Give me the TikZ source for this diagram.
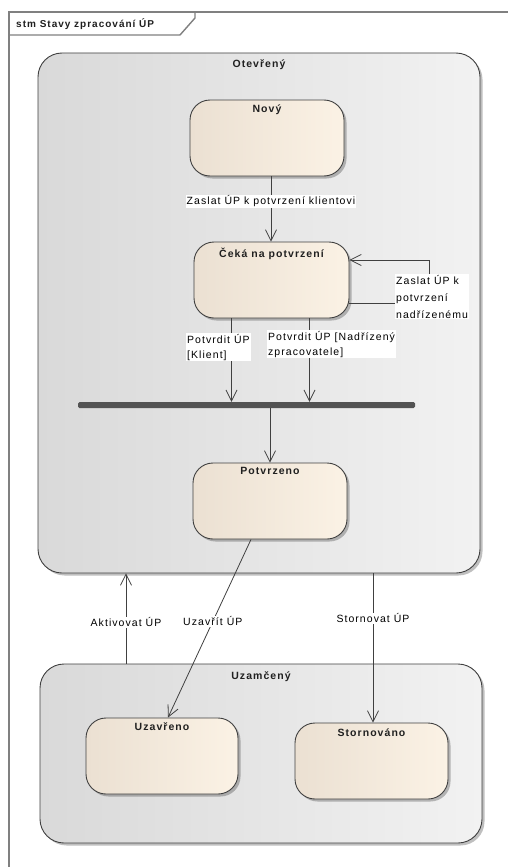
\documentclass[tikz,border=0pt]{standalone}
\usepackage{fontspec}
\setmainfont{Liberation Sans}[LetterSpace=10]
\usetikzlibrary{arrows.meta,shadows,positioning}

\definecolor{frameGray}{HTML}{808080}
\definecolor{edgeGray}{HTML}{404040}
\definecolor{compL}{HTML}{D9D9D9}
\definecolor{compR}{HTML}{F2F2F2}
\definecolor{stateL}{HTML}{EBE0D2}
\definecolor{stateR}{HTML}{FBF2E5}
\definecolor{titleInk}{HTML}{202020}

\tikzset{
  composite/.style={draw=edgeGray, line width=0.9pt, rounded corners=24pt,
    left color=compL, right color=compR,
    drop shadow={shadow xshift=2.5pt, shadow yshift=-2.5pt, fill=black, opacity=0.25}},
  statebox/.style={draw=edgeGray, line width=0.9pt, rounded corners=20pt,
    left color=stateL, right color=stateR,
    drop shadow={shadow xshift=2.5pt, shadow yshift=-2.5pt, fill=black, opacity=0.25}},
  titletext/.style={font=\bfseries\fontsize{10.5}{12}\selectfont, text=titleInk, inner sep=0pt},
  lbl/.style={font=\fontsize{10.5}{15}\selectfont, fill=white, inner sep=1pt, text=black},
  trans/.style={draw=edgeGray, line width=0.8pt, -{Straight Barb[length=11pt,width=11pt,line width=0.8pt]}},
  plain/.style={draw=edgeGray, line width=0.8pt},
  joinbar/.style={fill=edgeGray!90, rounded corners=1.5pt, minimum width=337pt, minimum height=6pt, inner sep=0pt}
}

\begin{document}
\begin{tikzpicture}[x=1pt,y=-1pt]
\useasboundingbox (0,0) rectangle (508,867);
\fill[white] (0,0) rectangle (508,867);

% diagram frame with its name tag
\draw[frameGray, line width=1.4pt] (9,867) -- (9,12) -- (508,12);
\draw[frameGray, line width=1.4pt] (195,12) -- (195,18) -- (180,35) -- (9,35);
\node[titletext, anchor=west, font=\bfseries\fontsize{10}{11}\selectfont] (frametitle) at (16,24) {stm Stavy zpracování ÚP};

% composite states
\node[composite, minimum width=442pt, minimum height=520pt] (otevreny) at (259,313) {};
\node[titletext, anchor=north] (otevrenyT) at ([yshift=-7pt]otevreny.north) {Otevřený};

\node[composite, minimum width=442pt, minimum height=179pt] (uzamceny) at (261,753.5) {};
\node[titletext, anchor=north] (uzamcenyT) at ([yshift=-8pt]uzamceny.north) {Uzamčený};

% simple states
\node[statebox, minimum width=154pt, minimum height=76pt] (novy) at (267,138) {};
\node[titletext, anchor=north] (novyT) at ([yshift=-5pt]novy.north) {Nový};

\node[statebox, minimum width=155pt, minimum height=76pt] (ceka) at (271.5,280) {};
\node[titletext, anchor=north] (cekaT) at ([yshift=-6pt]ceka.north) {Čeká na potvrzení};

\node[joinbar] (bar) at (246.5,405) {};

\node[statebox, minimum width=154pt, minimum height=76pt] (potvrzeno) at (270,501) {};
\node[titletext, anchor=north] (potvrzenoT) at ([yshift=-5pt]potvrzeno.north) {Potvrzeno};

\node[statebox, minimum width=152pt, minimum height=76pt] (uzavreno) at (162,756) {};
\node[titletext, anchor=north] (uzavrenoT) at ([yshift=-5pt]uzavreno.north) {Uzavřeno};

\node[statebox, minimum width=153pt, minimum height=76pt] (stornovano) at (371.5,761) {};
\node[titletext, anchor=north] (stornovanoT) at ([yshift=-6pt]stornovano.north) {Stornováno};

% transitions
\draw[trans] ([xshift=4pt]novy.south) -- ([xshift=-0.5pt]ceka.north)
  node[lbl, pos=0.38] (lblA) {Zaslat ÚP k potvrzení klientovi};

\draw[trans] ([yshift=-23pt]ceka.east) -- ++(80,0) |- ([yshift=20pt]ceka.east);
\node[lbl, anchor=north west, align=left, font=\fontsize{10.5}{17}\selectfont] (lblB) at (395,274)
  {Zaslat ÚP k\\potvrzení\\nadřízenému};

\draw[trans] ([xshift=-40pt]ceka.south) -- ([xshift=-40pt]ceka.south |- bar.north);
\draw[trans] ([xshift=38pt]ceka.south) -- ([xshift=38pt]ceka.south |- bar.north);
\node[lbl, anchor=north west, align=left] (lblC) at (186,333) {Potvrdit ÚP\\{[}Klient{]}};
\node[lbl, anchor=north west, align=left] (lblD) at (267,330) {Potvrdit ÚP {[}Nadřízený\\zpracovatele{]}};

\draw[trans] (potvrzeno.north |- bar.south) -- (potvrzeno.north);

\draw[trans] ([xshift=-19pt]potvrzeno.south) -- ([xshift=6pt]uzavreno.north)
  node[lbl, pos=0.46] (lblE) {Uzavřít ÚP};

\draw[trans] ([xshift=1.5pt]stornovano.north |- otevreny.south) -- ([xshift=1.5pt]stornovano.north)
  node[lbl, pos=0.3] (lblF) {Stornovat ÚP};

\draw[trans] ([xshift=-135pt]uzamceny.north) -- ([xshift=-133pt]otevreny.south)
  node[lbl, pos=0.46] (lblG) {Aktivovat ÚP};
\end{tikzpicture}
\end{document}
